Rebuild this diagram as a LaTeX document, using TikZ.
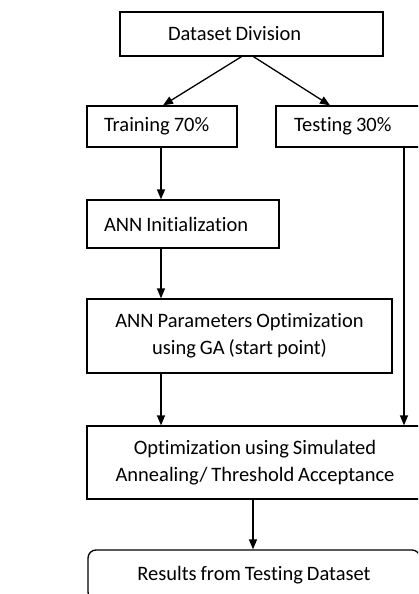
\documentclass[tikz,border=0pt]{standalone}
\usepackage{fontspec}
\setmainfont[Ligatures=NoCommon, WordSpace=0.85]{Carlito}
\usetikzlibrary{arrows.meta}

\tikzset{
  box/.style={draw, line width=1.3pt, minimum height=#1, inner ysep=0pt},
  box/.default=41pt,
  flow/.style={line width=1.3pt, -{Triangle[length=10pt,width=8pt]}}
}

\begin{document}
\begin{tikzpicture}[x=1pt, y=-1pt, font=\fontsize{20.5}{27}\selectfont]
\useasboundingbox (0,0) rectangle (418,594);
\clip (0,0) rectangle (418,594);
% boxes, top to bottom
\node[box=44pt, inner xsep=48pt] (div) at (251.5,34) {\makebox[167pt][l]{Dataset Division}};
\node[box, inner xsep=17pt] (train) at (162,126.5) {\makebox[116pt][l]{Training 70\%}};
\node[box, inner xsep=18pt] (test) at (352,126.5) {\makebox[116pt][l]{Testing 30\%}};
\node[box=48pt, inner xsep=17pt] (init) at (183,224) {\makebox[158pt][l]{ANN Initialization}};
\node[box=74pt, minimum width=305pt, align=center] (ga) at (239.5,336) {ANN Parameters Optimization\\using GA (start point)};
\node[box=73pt, minimum width=336pt, align=center] (sa) at (255,462.5) {Optimization using Simulated\\Annealing/ Threshold Acceptance};
\node[box=50pt, minimum width=332pt, rounded corners=8pt] (res) at (254,575) {Results from Testing Dataset};
\coordinate (tap) at (404,0);
% connectors
\draw[flow] ([xshift=-10pt]div.south) -- ([xshift=1pt]train.north);
\draw[flow] ([xshift=2pt]div.south) -- ([xshift=-22pt]test.north);
\draw[flow] ([xshift=-1pt]train.south) -- ([xshift=-1pt]train.south |- init.north);
\draw[flow] ([xshift=-1pt]train.south |- init.south) -- ([xshift=-1pt]train.south |- ga.north);
\draw[flow] ([xshift=-1pt]train.south |- ga.south) -- ([xshift=-1pt]train.south |- sa.north);
\draw[flow] (test.south -| tap) -- (tap |- sa.north);
\draw[flow] ([xshift=-2pt]sa.south) -- ([xshift=-2pt]sa.south |- res.north);
\end{tikzpicture}
\end{document}
